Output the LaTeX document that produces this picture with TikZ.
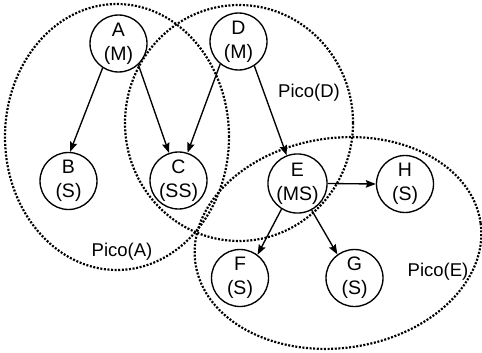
\documentclass[tikz,border=0pt]{standalone}
\usepackage{fontspec}
\setmainfont{Liberation Sans}
\usetikzlibrary{arrows.meta}
\begin{document}
\begin{tikzpicture}[x=1pt,y=-1pt,
  station/.style={circle,draw,line width=1.35pt,minimum size=57pt,inner sep=0pt,
    align=center,font=\fontsize{19.5}{24}\selectfont},
  link/.style={line width=1.35pt,-{Stealth[length=10pt,width=7.5pt,inset=1.5pt]}},
  pico/.style={line width=2.2pt,dash pattern=on 2pt off 1.6pt,draw=black},
  picolabel/.style={font=\fontsize{18.5}{22}\selectfont,inner sep=0pt}]
\useasboundingbox (0,0) rectangle (482,353);
% cells
\draw[pico] (117,137) ellipse [x radius=112pt, y radius=133pt];
\draw[pico] (239,123) ellipse [x radius=114pt, y radius=118pt];
\draw[pico,rotate around={8:(338,243)}] (338,243) ellipse [x radius=144pt, y radius=105pt];
% labels
\node[picolabel] (la) at (122,252) {Pico(A)};
\node[picolabel] (ld) at (309,93) {Pico(D)};
\node[picolabel] (le) at (438,272) {Pico(E)};
% nodes
\node[station] (A) at (118.5,43.5) {A\\(M)};
\node[station] (D) at (238.5,41.5) {D\\(M)};
\node[station] (B) at (68.5,181) {B\\(S)};
\node[station] (C) at (178.5,180.5) {C\\(SS)};
\node[station] (E) at (297.5,183.5) {E\\(MS)};
\node[station] (H) at (405,184) {H\\(S)};
\node[station] (F) at (240,278) {F\\(S)};
\node[station] (G) at (354.5,278) {G\\(S)};
% links
\draw[link] (A.237) -- (B.87);
\draw[link] (A.313) -- (C.109);
\draw[link] (D.231) -- (C.72);
\draw[link] (D.303) -- (E.111);
\draw[link] (E.east) -- (H.west);
\draw[link] (E.238) -- (F.53);
\draw[link] (E.298) -- (G.126);
\end{tikzpicture}
\end{document}
